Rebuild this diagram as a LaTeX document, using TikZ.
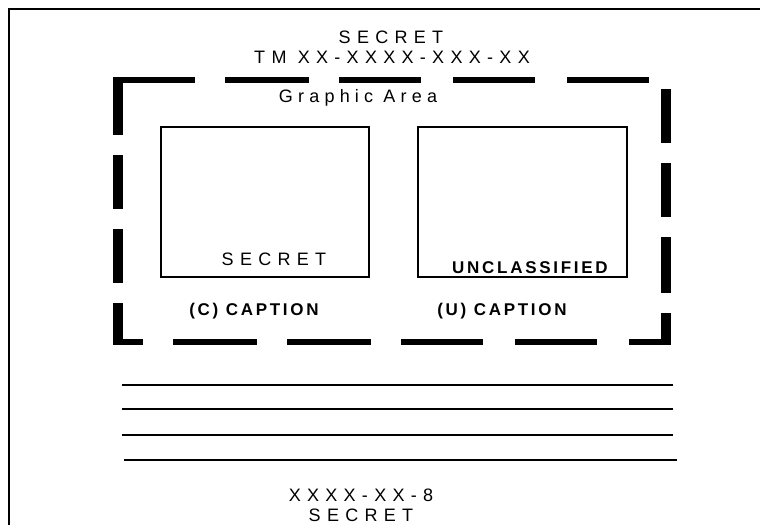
\documentclass[tikz,border=0pt]{standalone}
\usepackage{fontspec}
\setmainfont{Liberation Sans}
\newfontfamily\cgfont[LetterSpace=35]{Liberation Sans}
\newfontfamily\cgboldfont[LetterSpace=16]{Liberation Sans}
\usepackage{tikz}
\definecolor{cgInk}{HTML}{000000}
\tikzset{
  cg diagram/.style={x=1pt, y=-1pt, line cap=butt, text=cgInk},
  cg text/.style={font=\cgfont\fontsize{18}{20}\selectfont,
    inner sep=0pt, anchor=base},
  cg label/.style={cg text, font=\cgfont\addfontfeature{LetterSpace=29}\fontsize{18}{20}\selectfont},
  cg bold/.style={font=\cgboldfont\bfseries\fontsize{17}{20}\selectfont,
    inner sep=0pt, anchor=base},
  cg frame/.style={draw=cgInk, line width=2pt},
  cg box/.style={draw=cgInk, line width=1.6pt},
  cg rule/.style={draw=cgInk, line width=2pt},
  cg hdash/.style={draw=cgInk, line width=6pt},
  cg vdash/.style={draw=cgInk, line width=10pt}
}

\begin{document}
\begin{tikzpicture}[cg diagram]
\useasboundingbox (0,0) rectangle (760,525);
\draw[cg frame] (9,525) -- (9,9) -- (760,9);
% page markings
\node[cg text] (topclass) at (391,43) {SECRET};
\node[cg text] (docnum) at (392,63) {TM XX-XXXX-XXX-XX};
\node[cg label] (graphic) at (358,102) {Graphic Area};
% graphic area border
\foreach \a/\b in {113/195,225/309,339/421,453/535,567/649}
  \draw[cg hdash] (\a,80) -- (\b,80);
\foreach \a/\b in {113/143,173/257,287/371,401/483,515/597,629/671}
  \draw[cg hdash] (\a,342) -- (\b,342);
\foreach \a/\b in {77/135,155/209,229/283,303/345}
  \draw[cg vdash] (118,\a) -- (118,\b);
\foreach \a/\b in {89/143,163/217,237/293,313/345}
  \draw[cg vdash] (666,\a) -- (666,\b);
% the two figures
\draw[cg box] (161,127) rectangle (369,277);
\draw[cg box] (418,127) rectangle (627,277);
\node[cg text] (leftmark) at (274,265) {SECRET};
\node[cg bold] (rightmark) at (530,273) {UNCLASSIFIED};
\node[cg bold] (leftcap) at (254,315) {(C) CAPTION};
\node[cg bold] (rightcap) at (502,315) {(U) CAPTION};
% text lines
\foreach \y/\a/\b in {384.5/122/673,409/122/673,434.5/122/673,460/124/677}
  \draw[cg rule] (\a,\y) -- (\b,\y);
\node[cg text] (pagenum) at (361,501) {XXXX-XX-8};
\node[cg text] (botclass) at (361,521) {SECRET};
\end{tikzpicture}
\end{document}
